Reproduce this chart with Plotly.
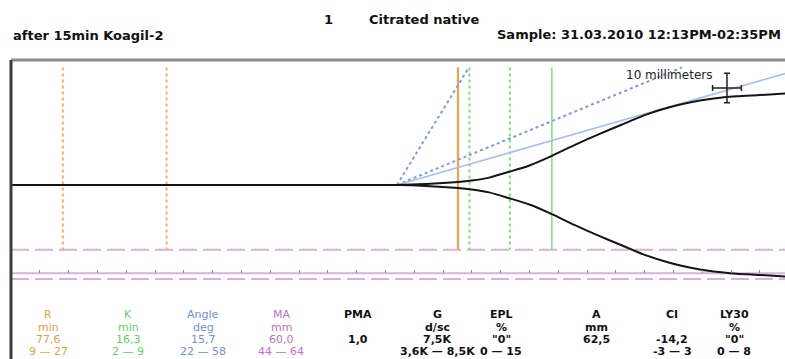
import math
import plotly.graph_objects as go

# ---- trace data: clot amplitude (mm, total) over time (min) ----
time_min = [0, 67, 72, 77.6, 80, 83, 86.5, 90, 94, 98, 102, 106, 110, 114, 118, 122, 126, 130, 134.4]
amplitude_mm = [0, 0, 0.6, 2.0, 3.0, 5.0, 9.0, 13.3, 20.0, 27.5, 34.5, 41.0, 47.5, 52.5, 56.3, 58.8, 60.3, 61.2, 62.3]

# ---- measured parameters ----
R_min = 77.6
K_min = 16.3
angle_deg = 15.7
MA_mm = 60.0
angle_origin_min = 67.0

# ---- reference ranges ----
R_range = [9, 27]
K_range = [2, 9]
angle_range = [22, 58]
MA_range = [44, 64]

# ---- result table ----
col_names = ["R", "K", "Angle", "MA", "PMA", "G", "EPL", "A", "CI", "LY30"]
col_units = ["min", "min", "deg", "mm", "", "d/sc", "%", "mm", "", "%"]
col_values = ["77,6", "16,3", "15,7", "60,0", "1,0", "7,5K", "\"0\"", "62,5", "-14,2", "\"0\""]
col_ranges = ["9 — 27", "2 — 9", "22 — 58", "44 — 64", "", "3,6K — 8,5K", "0 — 15", "", "-3 — 3", "0 — 8"]
col_colors = ["#e8a040", "#5fd35f", "#6f8fe0", "#c070c8", "#111", "#111", "#111", "#111", "#111", "#111"]
col_bold = [False, False, False, False, True, True, True, True, True, True]
col_x_px = [48, 128, 203, 281, 358, 437, 501, 596, 672, 734]

# ---- page geometry ----
W, H = 785, 359
L, T = 11, 60
X_MAX = (W - L) / 5.76          # minutes across the plot area
Y_MAX = 125 / 2.94              # mm above baseline
Y_MIN = -(H - T - 125) / 2.94   # mm below baseline
TOP_MM = 40.0                   # upper end of guide lines
CHART_MM_PER_MIN = 2.0

ORANGE = "#eea44a"
GREEN = "#7ee07e"
BLUE = "#a8bdf2"
BLUE_DOT = "#7d9be3"
MAGENTA = "#dcaee0"
FONT = "DejaVu Sans"


def px_x(px):
    return (px - L) / (W - L)


def px_y(py):
    return (H - py) / (H - T)


fig = go.Figure()


def vline(t, color, dash, width):
    fig.add_trace(go.Scatter(x=[t, t], y=[TOP_MM, -MA_range[0] / 2], mode="lines",
                             line=dict(color=color, dash=dash, width=width),
                             hoverinfo="skip", showlegend=False))


# MA range and MA level
for level in MA_range:
    fig.add_trace(go.Scatter(x=[0, X_MAX], y=[-level / 2] * 2, mode="lines",
                             line=dict(color=MAGENTA, dash="18px,6px", width=2),
                             hoverinfo="skip", showlegend=False))
fig.add_trace(go.Scatter(x=[0, X_MAX], y=[-MA_mm / 2] * 2, mode="lines",
                         line=dict(color=MAGENTA, width=2),
                         hoverinfo="skip", showlegend=False))

# R reference range and R
for t in R_range:
    vline(t, "#f0b468", "dot", 2)
vline(R_min, ORANGE, "solid", 2.2)

# K reference range and K
for k in K_range:
    vline(R_min + k, GREEN, "dot", 2)
vline(R_min + K_min, GREEN, "solid", 1.5)


# alpha angle lines from the split point
def angle_line(deg, color, dash, width):
    slope = math.tan(math.radians(deg)) * CHART_MM_PER_MIN
    t_end = min(X_MAX, angle_origin_min + TOP_MM / slope)
    fig.add_trace(go.Scatter(x=[angle_origin_min, t_end],
                             y=[0, slope * (t_end - angle_origin_min)], mode="lines",
                             line=dict(color=color, dash=dash, width=width),
                             hoverinfo="skip", showlegend=False))


for a in angle_range:
    angle_line(a, BLUE_DOT, "dot", 2)
angle_line(angle_deg, BLUE, "solid", 1.6)

# the tracing itself (symmetric about the baseline)
fig.add_trace(go.Scatter(x=time_min, y=[a / 2 for a in amplitude_mm], mode="lines",
                         line=dict(color="#151515", width=2, shape="spline", smoothing=0.6),
                         hoverinfo="skip", showlegend=False))
fig.add_trace(go.Scatter(x=time_min, y=[-a / 2 for a in amplitude_mm], mode="lines",
                         line=dict(color="#151515", width=2, shape="spline", smoothing=0.6),
                         hoverinfo="skip", showlegend=False))

# 10 mm scale cross
fig.add_trace(go.Scatter(x=[124.3], y=[33.0], mode="markers",
                         marker=dict(size=1, color="#222"),
                         error_y=dict(type="constant", value=5, color="#222", thickness=1.5, width=3),
                         error_x=dict(type="constant", value=2.5, color="#222", thickness=1.5, width=3),
                         hoverinfo="skip", showlegend=False))

annotations = [
    dict(x=114.3, y=37.4, xref="x", yref="y", text="10 millimeters",
         font=dict(family=FONT, size=12, color="#222")),
    dict(x=px_x(328), y=px_y(19), text="<b>1</b>",
         font=dict(family=FONT, size=13, color="#111")),
    dict(x=px_x(368), y=px_y(19), text="<b>Citrated native</b>", xanchor="left",
         font=dict(family=FONT, size=13, color="#111")),
    dict(x=px_x(12), y=px_y(35), text="<b>after 15min Koagil-2</b>", xanchor="left",
         font=dict(family=FONT, size=13, color="#111")),
    dict(x=px_x(782), y=px_y(34), text="<b>Sample: 31.03.2010 12:13PM-02:35PM</b>", xanchor="right",
         font=dict(family=FONT, size=13, color="#111")),
]

row_y = [314.5, 327.5, 339.5, 351.5]
for i, name in enumerate(col_names):
    rows = [name, col_units[i], col_values[i], col_ranges[i]]
    for r, txt in enumerate(rows):
        if not txt:
            continue
        shown = f"<b>{txt}</b>" if col_bold[i] else txt
        annotations.append(dict(x=px_x(col_x_px[i]), y=px_y(row_y[r]), text=shown,
                                font=dict(family=FONT, size=11, color=col_colors[i])))

for a in annotations:
    a.setdefault("xref", "paper")
    a.setdefault("yref", "paper")
    a.setdefault("xanchor", "center")
    a.setdefault("yanchor", "middle")
    a["showarrow"] = False
    a["borderpad"] = 0

ma_paper = (-MA_mm / 2 - Y_MIN) / (Y_MAX - Y_MIN)

fig.update_layout(
    width=W, height=H,
    margin=dict(l=L, r=0, t=T, b=0),
    paper_bgcolor="white", plot_bgcolor="white",
    xaxis=dict(range=[0, X_MAX], showgrid=False, zeroline=False, showline=False,
               showticklabels=False, ticks="inside", ticklen=3, tickwidth=1,
               tickcolor="#5b9bd8", tick0=0, dtick=5,
               anchor="free", position=ma_paper, fixedrange=True),
    yaxis=dict(range=[Y_MIN, Y_MAX], visible=False, fixedrange=True),
    annotations=annotations,
    shapes=[
        dict(type="line", xref="paper", yref="paper", x0=0, x1=1, y0=1, y1=1,
             line=dict(color="#8c8c8c", width=3)),
        dict(type="line", xref="paper", yref="paper", x0=0, x1=0, y0=0, y1=1,
             line=dict(color="#3c3c3c", width=3)),
    ],
)

fig.write_html("out.html")
